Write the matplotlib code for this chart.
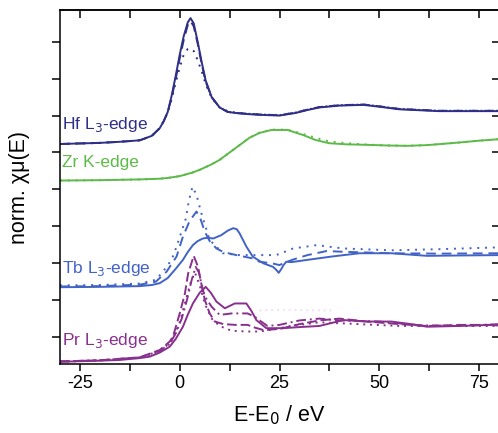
import matplotlib
matplotlib.use("Agg")
import matplotlib.pyplot as plt
from matplotlib.ticker import MultipleLocator, NullFormatter

plt.rcParams['font.family'] = ['Liberation Sans', 'DejaVu Sans']
plt.rcParams['axes.unicode_minus'] = False

# ---------------- data ----------------
hf_e = [-30, -20, -15, -10, -7, -5, -4, -3, -2, -1, 0, 1, 2, 2.7, 3.5, 4.5, 5.5, 6.5, 8, 10,
        12, 14, 17, 20, 25, 29, 32, 35, 40, 46, 50, 55, 65, 80]
hf_solid = [5.23, 5.26, 5.29, 5.33, 5.45, 5.66, 5.85, 6.1, 6.55, 7.08, 7.65, 8.15, 8.52, 8.64, 8.5,
            8.0, 7.45, 6.95, 6.5, 6.22, 6.1, 6.07, 6.04, 6.02, 6.0, 6.07, 6.15, 6.22, 6.27, 6.29,
            6.24, 6.17, 6.12, 6.12]
hf_dash = [5.23, 5.26, 5.29, 5.33, 5.45, 5.66, 5.85, 6.1, 6.5, 7.0, 7.55, 8.05, 8.45, 8.56, 8.42,
           7.95, 7.4, 6.92, 6.5, 6.22, 6.1, 6.07, 6.05, 6.03, 6.01, 6.08, 6.16, 6.23, 6.28, 6.3,
           6.25, 6.18, 6.13, 6.13]
hf_dot = [5.23, 5.26, 5.29, 5.33, 5.45, 5.66, 5.85, 6.08, 6.45, 6.9, 7.3, 7.65, 7.8, 7.82, 7.75,
          7.5, 7.2, 6.85, 6.48, 6.22, 6.12, 6.08, 6.05, 6.03, 6.01, 6.08, 6.16, 6.23, 6.28, 6.3,
          6.25, 6.18, 6.13, 6.13]

zr_e = [-30, -20, -10, -5, -3, 0, 3, 5, 8, 10, 12.5, 15, 17.5, 20, 23, 27, 31, 34, 37.5, 42, 46,
        52, 57, 62, 70, 75, 80]
zr_solid = [4.24, 4.25, 4.27, 4.29, 4.31, 4.36, 4.45, 4.53, 4.68, 4.8, 5.0, 5.2, 5.4, 5.53, 5.61,
            5.61, 5.47, 5.34, 5.25, 5.22, 5.21, 5.19, 5.18, 5.2, 5.27, 5.32, 5.36]
zr_dot = [4.24, 4.25, 4.27, 4.29, 4.31, 4.36, 4.45, 4.53, 4.68, 4.8, 5.0, 5.2, 5.4, 5.54, 5.62,
          5.62, 5.5, 5.4, 5.3, 5.25, 5.22, 5.19, 5.18, 5.2, 5.27, 5.32, 5.36]

tb_e_solid = [-30, -20, -10, -7, -5, -3, -1, 0.8, 2, 3.3, 4.5, 5.8, 7, 8.4, 10.4, 12, 13.4, 14.3,
              15, 16.7, 18.3, 20.9, 23.4, 24.2, 24.8, 25.5, 26, 26.7, 28, 32.6, 38, 45, 53, 62,
              70, 80]
tb_solid = [1.35, 1.36, 1.38, 1.41, 1.46, 1.6, 1.85, 2.09, 2.3, 2.49, 2.6, 2.67, 2.69, 2.67, 2.76,
            2.88, 2.95, 2.92, 2.81, 2.45, 2.18, 2.0, 1.9, 1.82, 1.74, 1.85, 1.95, 2.04, 2.03, 2.1,
            2.18, 2.27, 2.27, 2.2, 2.21, 2.22]
tb_e_dash = [-30, -20, -10, -6, -3.3, -0.8, 0.8, 2.5, 4.2, 5.2, 6.3, 7.5, 9.2, 11, 14.2, 18.3, 20,
             23, 25, 26, 28.4, 32, 36.8, 41, 53, 65, 80]
tb_dash = [1.37, 1.38, 1.42, 1.5, 1.77, 2.18, 2.72, 3.15, 3.4, 3.2, 2.85, 2.6, 2.4, 2.3, 2.22,
           2.13, 2.04, 2.0, 1.95, 2.0, 2.1, 2.22, 2.33, 2.31, 2.27, 2.26, 2.27]
tb_e_dot = [-30, -20, -10, -6, -4.2, -2, -0.8, 1.5, 2.3, 3.2, 4.2, 5.4, 7.5, 10.8, 15, 20, 24, 25,
            28.4, 34.3, 41, 53, 65, 80]
tb_dot = [1.4, 1.41, 1.45, 1.55, 1.77, 2.1, 2.45, 3.2, 3.7, 4.07, 3.85, 3.36, 2.63, 2.27, 2.22,
          2.22, 2.22, 2.25, 2.4, 2.49, 2.4, 2.35, 2.38, 2.43]

pr_e_solid = [-30, -20, -15, -10, -7.5, -5, -2.5, -1, 0.8, 2, 3.3, 5, 6.5, 7.8, 9.2, 11.3, 13.8,
              16.7, 18, 19.2, 21.7, 25.9, 30, 35, 41, 47, 53, 58, 62, 70, 78, 80]
pr_solid = [-0.67, -0.64, -0.62, -0.57, -0.53, -0.42, -0.26, -0.05, 0.28, 0.6, 0.91, 1.2, 1.36,
            1.2, 0.96, 0.78, 0.91, 0.91, 0.7, 0.46, 0.24, 0.24, 0.27, 0.3, 0.46, 0.42, 0.42, 0.35,
            0.28, 0.3, 0.33, 0.31]
pr_e_dash = [-30, -20, -10, -5, -2.5, -1.7, 0, 1.3, 2.1, 3.5, 4.6, 5.4, 6.3, 7.5, 8.8, 11, 14, 17,
             19, 21, 25, 30, 35, 40, 47, 55, 62, 70, 80]
pr_dash = [-0.66, -0.63, -0.55, -0.35, -0.12, 0.01, 0.64, 1.18, 1.72, 2.2, 1.9, 1.45, 1.0, 0.64,
           0.42, 0.35, 0.33, 0.33, 0.25, 0.19, 0.22, 0.35, 0.45, 0.5, 0.42, 0.35, 0.3, 0.33, 0.33]
pr_e_dashdot = [-30, -20, -10, -5, -2.5, -1, 0.5, 1.8, 3, 4, 4.8, 5.5, 6.3, 8, 10, 13, 17, 18.8,
                20.4, 22, 25, 30, 35, 40, 50, 60, 70, 80]
pr_dashdot = [-0.66, -0.63, -0.55, -0.38, -0.18, 0.1, 0.5, 1.0, 1.55, 1.9, 1.75, 1.4, 1.1, 0.82,
              0.6, 0.64, 0.64, 0.55, 0.42, 0.3, 0.33, 0.45, 0.5, 0.45, 0.42, 0.32, 0.3, 0.35]
pr_e_dot = [-30, -20, -10, -5, -2, 0, 1.5, 2.8, 3.8, 5, 6.3, 8, 10, 13, 17, 20, 23, 28, 35, 45,
            55, 65, 80]
pr_dot = [-0.67, -0.63, -0.56, -0.4, -0.1, 0.4, 1.0, 1.5, 1.75, 1.4, 0.9, 0.5, 0.3, 0.17, 0.15,
          0.15, 0.2, 0.3, 0.4, 0.35, 0.3, 0.3, 0.3]
pr_faint_e = [20, 25, 30, 38]
pr_faint = [0.72, 0.74, 0.73, 0.72]

labels = ["Hf L$_3$-edge", "Zr K-edge", "Tb L$_3$-edge", "Pr L$_3$-edge"]
label_y = [5.75, 4.72, 1.87, -0.08]

c_hf = "#2e2f86"
c_zr = "#5cba48"
c_tb = "#4163c6"
c_pr = "#88308e"
colors = [c_hf, c_zr, c_tb, c_pr]

# ---------------- figure ----------------
fig = plt.figure(figsize=(4.98, 4.33), dpi=100)
ax = fig.add_axes([60 / 498, 1 - 364 / 433, 439 / 498, 354 / 433])

lw = 1.4
ax.plot(hf_e, hf_solid, color=c_hf, lw=lw)
ax.plot(hf_e, hf_dash, color=c_hf, lw=lw, ls=(0, (5, 3)))
ax.plot(hf_e, hf_dot, color=c_hf, lw=lw, ls=(0, (1, 3)))

ax.plot(zr_e, zr_solid, color=c_zr, lw=lw)
ax.plot(zr_e, zr_dot, color=c_zr, lw=lw, ls=(0, (1, 3)))

ax.plot(tb_e_solid, tb_solid, color=c_tb, lw=lw)
ax.plot(tb_e_dash, tb_dash, color=c_tb, lw=lw, ls=(0, (5, 3)))
ax.plot(tb_e_dot, tb_dot, color=c_tb, lw=lw, ls=(0, (1, 3)))

ax.plot(pr_faint_e, pr_faint, color="#efe2ef", lw=lw, ls=(0, (1, 2)))
ax.plot(pr_e_solid, pr_solid, color=c_pr, lw=lw)
ax.plot(pr_e_dash, pr_dash, color=c_pr, lw=lw, ls=(0, (5, 2)))
ax.plot(pr_e_dashdot, pr_dashdot, color=c_pr, lw=lw, ls=(0, (5, 2, 1, 2)))
ax.plot(pr_e_dot, pr_dot, color=c_pr, lw=lw, ls=(0, (1, 2.5)))

for lab, yy, cc in zip(labels, label_y, colors):
    ax.text(-29.6, yy, lab, color=cc, fontsize=12.5, va='center', ha='left')

ax.set_xlim(-30, 80)
ax.set_ylim(-0.73, 8.86)

ax.xaxis.set_major_locator(MultipleLocator(25))
ax.xaxis.set_minor_locator(MultipleLocator(12.5))
ax.yaxis.set_major_locator(MultipleLocator(1))
ax.yaxis.set_major_formatter(NullFormatter())
ax.tick_params(axis='x', which='both', direction='out', length=5, width=1.1,
               labelsize=13, pad=3, top=False)
ax.tick_params(axis='y', which='both', direction='out', length=6, width=1.1, right=False)

for s in ax.spines.values():
    s.set_linewidth(1.1)

top = ax.secondary_xaxis('top')
top.xaxis.set_major_locator(MultipleLocator(25))
top.xaxis.set_minor_locator(MultipleLocator(12.5))
top.tick_params(axis='x', which='both', direction='in', length=6, width=1.1, labeltop=False)
top.spines['top'].set_linewidth(1.1)

right = ax.secondary_yaxis('right')
right.yaxis.set_major_locator(MultipleLocator(1))
right.tick_params(axis='y', which='both', direction='in', length=5, width=1.1, labelright=False)
right.spines['right'].set_linewidth(1.1)

ax.set_xlabel("E-E$_0$ / eV", fontsize=15.5, labelpad=8)
ax.set_ylabel("norm. \u03c7\u03bc(E)", fontsize=15.5, labelpad=12)

fig.savefig("out.png", dpi=100)
